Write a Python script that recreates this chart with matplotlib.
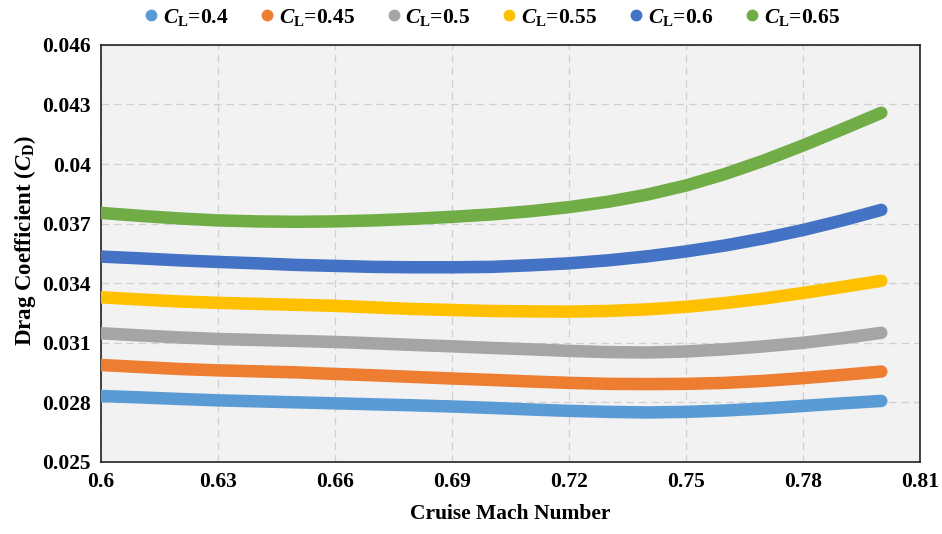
import matplotlib.pyplot as plt
import numpy as np

# Cruise Mach number samples
mach = [0.60, 0.61, 0.62, 0.63, 0.64, 0.65, 0.66, 0.67, 0.68, 0.69, 0.70,
        0.71, 0.72, 0.73, 0.74, 0.75, 0.76, 0.77, 0.78, 0.79, 0.80]

# Drag coefficient for each lift coefficient
cd_040 = [0.02832, 0.02825, 0.02817, 0.02810, 0.02805, 0.02800, 0.02795, 0.02790,
          0.02785, 0.02779, 0.02772, 0.02764, 0.02757, 0.02752, 0.02749, 0.02752,
          0.02759, 0.02769, 0.02782, 0.02795, 0.02807]
cd_045 = [0.02988, 0.02978, 0.02968, 0.02961, 0.02956, 0.02951, 0.02943, 0.02936,
          0.02928, 0.02920, 0.02913, 0.02905, 0.02898, 0.02893, 0.02892, 0.02893,
          0.02898, 0.02908, 0.02922, 0.02938, 0.02955]
cd_050 = [0.03148, 0.03137, 0.03127, 0.03119, 0.03114, 0.03109, 0.03104, 0.03097,
          0.03089, 0.03082, 0.03074, 0.03067, 0.03059, 0.03053, 0.03051, 0.03056,
          0.03067, 0.03082, 0.03100, 0.03123, 0.03150]
cd_055 = [0.03329, 0.03318, 0.03308, 0.03301, 0.03296, 0.03291, 0.03286, 0.03278,
          0.03270, 0.03265, 0.03260, 0.03258, 0.03257, 0.03260, 0.03268, 0.03281,
          0.03300, 0.03323, 0.03351, 0.03381, 0.03412]
cd_060 = [0.03534, 0.03525, 0.03515, 0.03507, 0.03500, 0.03492, 0.03487, 0.03482,
          0.03480, 0.03480, 0.03482, 0.03490, 0.03500, 0.03515, 0.03535, 0.03560,
          0.03590, 0.03626, 0.03668, 0.03716, 0.03769]
cd_065 = [0.03754, 0.03739, 0.03726, 0.03716, 0.03711, 0.03709, 0.03711, 0.03716,
          0.03724, 0.03734, 0.03746, 0.03762, 0.03783, 0.03810, 0.03846, 0.03892,
          0.03950, 0.04018, 0.04094, 0.04175, 0.04258]

cl_labels = ["0.4", "0.45", "0.5", "0.55", "0.6", "0.65"]
series = [cd_040, cd_045, cd_050, cd_055, cd_060, cd_065]
colors = ["#5B9BD5", "#ED7D31", "#A5A5A5", "#FFC000", "#4472C4", "#70AD47"]

xticks = [0.6, 0.63, 0.66, 0.69, 0.72, 0.75, 0.78, 0.81]
yticks = [0.025, 0.028, 0.031, 0.034, 0.037, 0.04, 0.043, 0.046]

plt.rcParams["font.family"] = "Liberation Serif"
plt.rcParams["font.weight"] = "bold"
plt.rcParams["axes.labelweight"] = "bold"
plt.rcParams["mathtext.fontset"] = "custom"
plt.rcParams["mathtext.it"] = "Liberation Serif:italic:bold"
plt.rcParams["mathtext.rm"] = "Liberation Serif:bold"
plt.rcParams["mathtext.bf"] = "Liberation Serif:bold"

fig = plt.figure(figsize=(9.42, 5.34), dpi=100)
ax = fig.add_axes([0.107, 0.135, 0.870, 0.781])
ax.set_facecolor("#F2F2F2")

handles = []
for cd, cl, c in zip(series, cl_labels, colors):
    ax.plot(mach, cd, color=c, lw=9, solid_capstyle="round", zorder=3)
    h, = ax.plot([], [], "o", color=c, ms=7.5, label=r"$C_\mathrm{L}$=" + cl)
    handles.append(h)

ax.set_xlim(0.6, 0.81)
ax.set_ylim(0.025, 0.046)
ax.set_xticks(xticks)
ax.set_xticklabels([str(t) for t in xticks])
ax.set_yticks(yticks)
ax.set_yticklabels([str(t) for t in yticks])
ax.tick_params(length=0, labelsize=15.5, pad=7)
ax.grid(True, ls=(0, (6, 4)), color="#D0D0D0", lw=0.9, zorder=0)
ax.set_axisbelow(True)
for s in ax.spines.values():
    s.set_color("#222222")
    s.set_linewidth(1.2)

ax.set_xlabel("Cruise Mach Number", fontsize=15.5, labelpad=9)
ax.set_ylabel(r"Drag Coefficient ($C_\mathrm{D}$)", fontsize=16.5)
ax.yaxis.set_label_coords(-0.077, 0.53)

fig.legend(handles=handles, loc="center", bbox_to_anchor=(0.52, 0.968), ncol=6,
           frameon=False, fontsize=15.5, handletextpad=0.05, columnspacing=1.3,
           handlelength=1.0)

fig.savefig("out.png", dpi=100)
